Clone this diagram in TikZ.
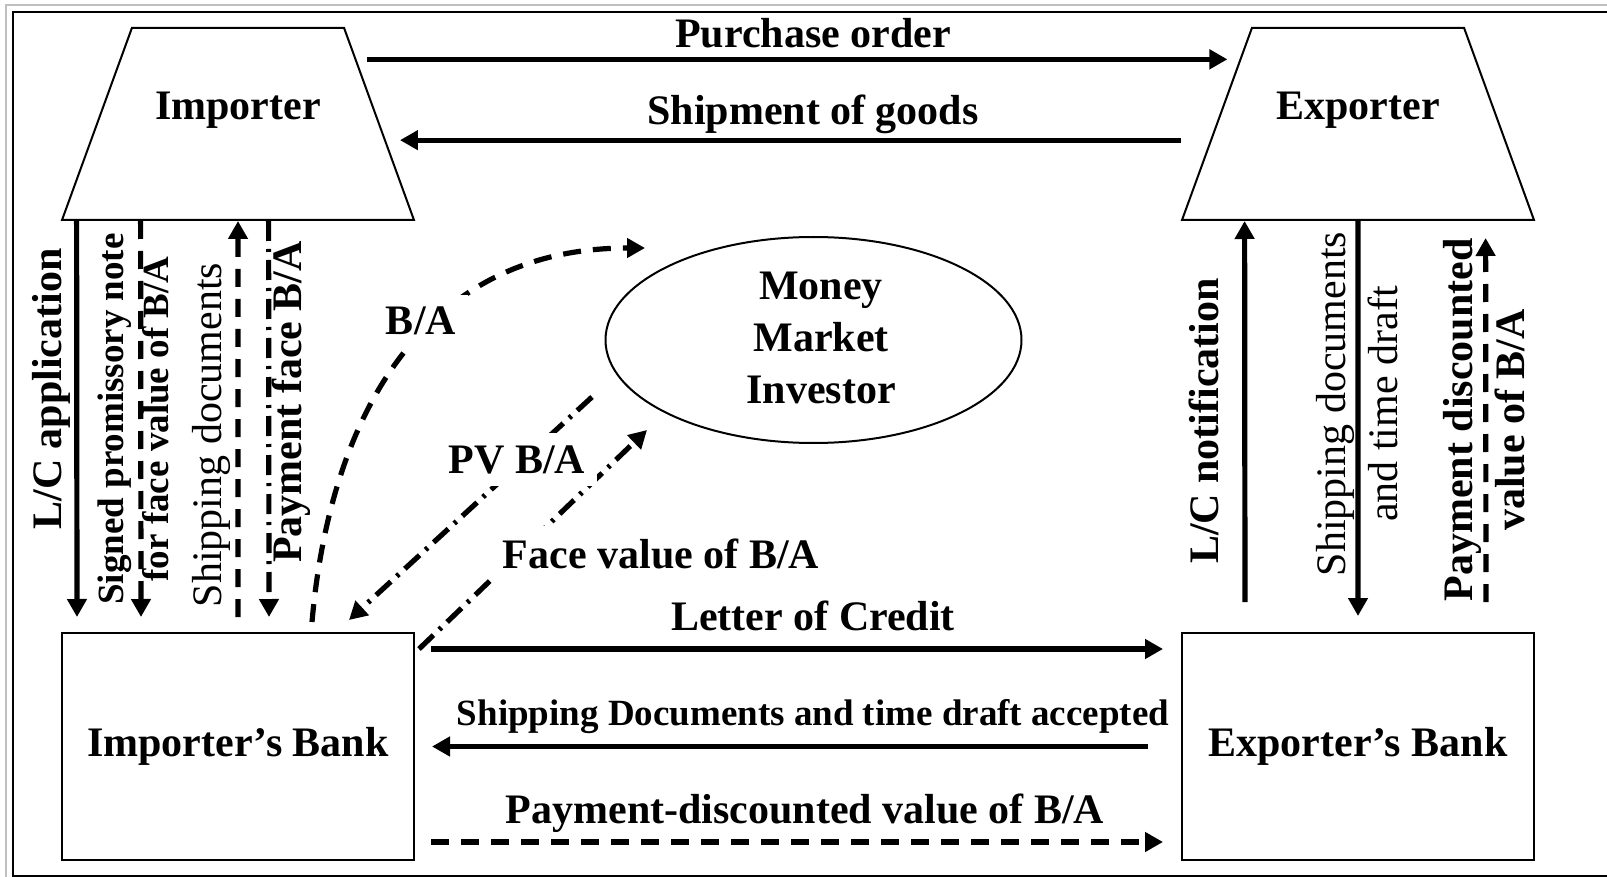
\documentclass[tikz,border=0pt]{standalone}
\usepackage{fontspec}
\setmainfont{Liberation Serif}
\usetikzlibrary{shapes.geometric,arrows.meta,calc}

\begin{document}
\begin{tikzpicture}[x=0.5pt,y=-0.5pt]
        \tikzstyle{every node} = [font=\fontsize{21}{26}\selectfont\bfseries]
        \tikzstyle{arr} = [line width=2.6pt,-{Triangle[length=9pt,width=9.5pt]}]
        \tikzstyle{dsh} = [dash pattern=on 9pt off 6pt]
        \tikzstyle{dshdot} = [dash pattern=on 10pt off 4pt on 1.5pt off 4pt]
        \tikzstyle{firm} = [draw,line width=1pt,trapezium,trapezium left angle=70,trapezium right angle=70,
                            text width=106.1pt,text height=96pt,text depth=0pt,inner sep=0pt]
        \tikzstyle{bank} = [draw,line width=1pt,minimum width=176pt,minimum height=113.5pt,inner sep=0pt]
        \tikzstyle{gap} = [fill=white,inner sep=6pt]
        \tikzstyle{reg} = [font=\fontsize{21}{26}\selectfont]
        \tikzstyle{small} = [font=\fontsize{18.5}{22.5}\selectfont\bfseries]
            \useasboundingbox (0,0) rectangle (1607,877);
            % frame
            \draw[gray!50,line width=0.8pt] (6,877) -- (6,5) -- (1607,5);
            \draw[line width=1.2pt] (1607,876) -- (13,876) -- (13,12) -- (1607,12);

            % parties
            \node[firm] (imp) at (238,124) {};
            \node[firm] (exp) at (1358,124) {};
            \node[anchor=base] (impname) at (238,120) {Importer};
            \node[anchor=base] (expname) at (1358,120) {Exporter};
            \node[bank] (ibank) at (238,746.5) {Importer’s Bank};
            \node[bank] (ebank) at (1358,746.5) {Exporter’s Bank};
            \node[draw,ellipse,line width=1pt,minimum width=208pt,minimum height=103pt] (mmi) at (813.5,340) {};
            \node[align=center] (mmitxt) at (821,338) {Money\\Market\\Investor};

            % importer <-> exporter
            \draw[arr] ($(imp.top right corner)!0.1667!(imp.bottom right corner)+(5pt,0)$)
                    -- ($(exp.top left corner)!0.1667!(exp.bottom left corner)+(-6pt,0)$);
            \draw[arr] ($(exp.top left corner)!0.5833!(exp.bottom left corner)+(-14.5pt,0)$)
                    -- ($(imp.top right corner)!0.5833!(imp.bottom right corner)+(7pt,0)$);
            \node[anchor=base] (po) at (813,48) {Purchase order};
            \node[anchor=base] (ship) at (813,125) {Shipment of goods};

            % bank <-> bank
            \draw[arr,shorten <=8pt,shorten >=9pt] ([yshift=-8.5pt]ibank.north east) -- ([yshift=-8.5pt]ebank.north west);
            \draw[arr,shorten <=16.5pt,shorten >=8.5pt] (ebank.west) -- (ibank.east);
            \draw[arr,dsh,shorten <=8pt,shorten >=9pt] ([yshift=9.5pt]ibank.south east) -- ([yshift=9.5pt]ebank.south west);
            \node[anchor=base] (loc) at (813,630) {Letter of Credit};
            \node[small,anchor=base] (sdacc) at (813,725) {Shipping Documents and time draft accepted};
            \node[anchor=base] (paydv) at (805,823) {Payment-discounted value of B/A};

            % importer <-> importer's bank
            \draw[arr,shorten >=7.5pt] ([xshift=8pt]imp.bottom left corner) -- ([xshift=8pt]ibank.north west);
            \draw[arr,dsh,shorten >=7.5pt] ([xshift=40pt]imp.bottom left corner) -- ([xshift=40pt]ibank.north west);
            \draw[arr,dsh,shorten <=7.5pt] (ibank.north) -- (imp.south);
            \draw[arr,dshdot,shorten >=7.5pt] ([xshift=104pt]imp.bottom left corner) -- ([xshift=104pt]ibank.north west);
            \node[rotate=90] (lcapp) at (51,389) {L/C application};
            \node[small,rotate=90,align=center] (spn) at (133.5,419) {Signed promissory note\\for face value of B/A};
            \node[reg,rotate=90] (shipd) at (211,435) {Shipping documents};
            \node[rotate=90] (payface) at (291,402) {Payment face B/A};

            % exporter <-> exporter's bank
            \draw[arr,shorten <=15pt] ([xshift=32pt]ebank.north west) -- ([xshift=32pt]exp.bottom left corner);
            \draw[arr,shorten >=8pt] (exp.south) -- (ebank.north);
            \draw[arr,dsh,shorten <=15pt,shorten >=8.5pt] ([xshift=152.5pt]ebank.north west) -- ([xshift=152.5pt]exp.bottom left corner);
            \node[rotate=90] (lcnot) at (1204,421) {L/C notification};
            \node[reg,rotate=90,align=center] (shipdt) at (1357.5,404) {Shipping documents\\and time draft};
            \node[rotate=90,align=center] (paydisc) at (1484.5,420) {Payment discounted\\value of B/A};

            % money market
            \draw[arr,dsh] ([xshift=125.5pt,yshift=5pt]ibank.north west)
                    .. controls +(85:102pt) and +(180:112pt) .. ([shift={(-84.25pt,46pt)}]mmi.center);
            \draw[arr,dshdot] ([shift={(-110.75pt,-28.5pt)}]mmi.center) -- ([xshift=144pt,yshift=6pt]ibank.north west);
            \draw[arr,dshdot] ([xshift=2pt,yshift=-8.5pt]ibank.north east) -- ([shift={(-83.25pt,-45pt)}]mmi.center);
            \node[gap,anchor=base] (ba) at (421,335) {B/A};
            \node[gap,anchor=base] (pvba) at (517,473) {PV B/A};
            \node[gap,anchor=base] (fvba) at (661,568) {Face value of B/A};
\end{tikzpicture}
\end{document}
